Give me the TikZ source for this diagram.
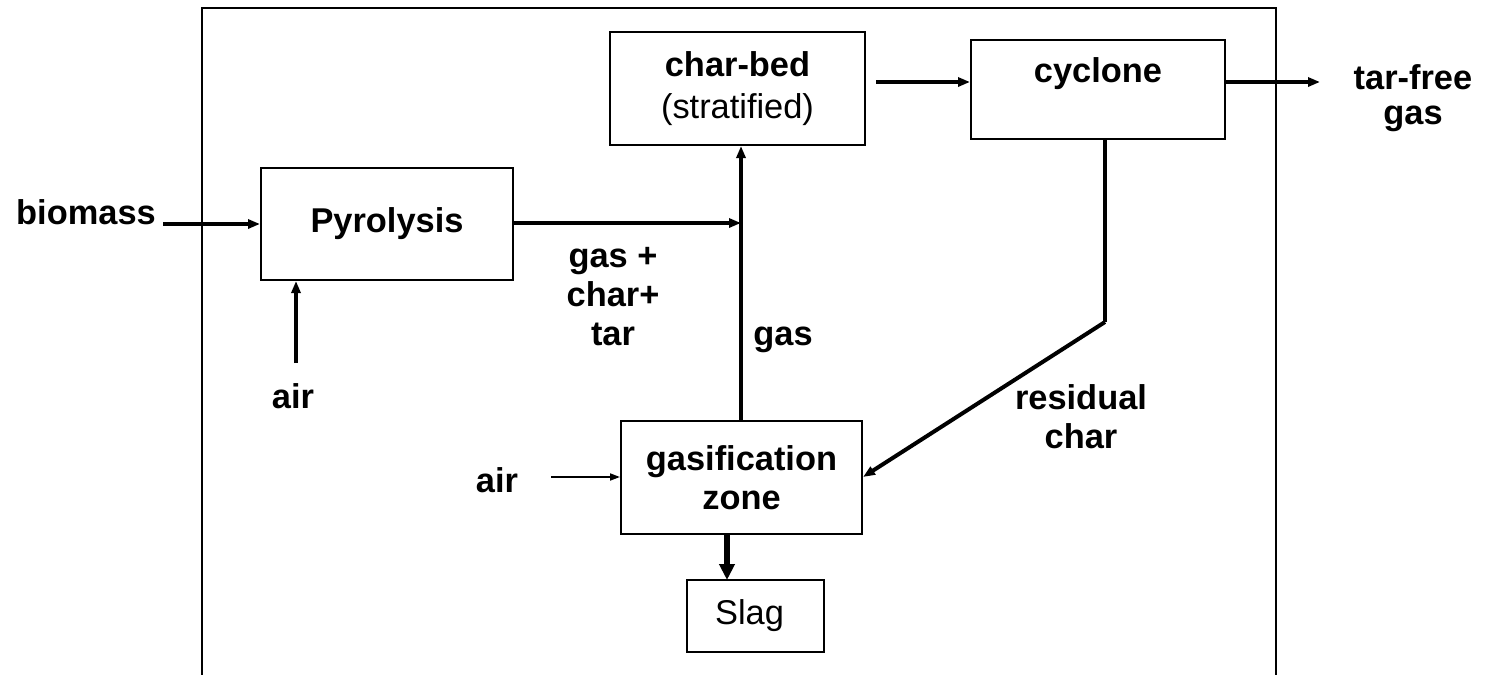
\documentclass[tikz,border=0pt]{standalone}
\usepackage{fontspec}
\setmainfont{Liberation Sans}
\usetikzlibrary{arrows.meta}
\begin{document}
\begin{tikzpicture}[x=0.5pt,y=-0.5pt,
  font=\fontsize{17.2}{19.5}\selectfont\bfseries,
  box/.style={draw,line width=1pt,inner sep=0pt,align=center},
  lbl/.style={align=center,inner sep=0pt},
  flow/.style={line width=2pt,-{Triangle[length=6pt,width=4.5pt]}},
  thinflow/.style={line width=0.9pt,-{Triangle[length=5pt,width=3.5pt]}},
  bigflow/.style={line width=2.6pt,-{Triangle[length=8pt,width=7.5pt]}},
  pipe/.style={line width=2pt}]
\useasboundingbox (0,0) rectangle (1496,675);
% frame
\draw[line width=1.2pt] (202,675) -- (202,8) -- (1276,8) -- (1276,675);
% boxes
\node[box,minimum width=126pt,minimum height=56pt] (pyro) at (387,224) {Pyrolysis};
\node[box,minimum width=127.5pt,minimum height=56.5pt,font=\fontsize{17.2}{21}\selectfont\bfseries] (charbed) at (737.5,88.5) {char-bed\\\mdseries(stratified)};
\node[box,minimum width=127pt,minimum height=49.5pt] (cyclone) at (1098,89.5) {cyclone\\\mbox{}};
\node[box,minimum width=120.5pt,minimum height=56.5pt] (gasif) at (741.5,477.5) {gasification\\zone};
\node[box,minimum width=68.5pt,minimum height=36pt,font=\fontsize{17.2}{19.5}\selectfont\mdseries] (slag) at (755.5,616) {Slag\hspace{6pt}};
% labels
\node[lbl] (lbiomass) at (86,212) {biomass};
\node[lbl] (lair1) at (293,396) {air};
\node[lbl] (lair2) at (497,480) {air};
\node[lbl] (lgct) at (613,297) {gas +\\char+\\tar};
\node[lbl] (lgas) at (783,340) {gas};
\node[lbl,font=\fontsize{17.2}{19.5}\selectfont\bfseries] (lres) at (1081,417) {residual\\char};
\node[lbl,font=\fontsize{17.2}{17.5}\selectfont\bfseries] (ltf) at (1413,98) {tar-free\\gas};
% coordinates
\coordinate (bstart) at (163,224);
\coordinate (a1start) at (296,363);
\coordinate (J) at (741,223);
\coordinate (cbout) at (876,82);
\coordinate (tfend) at (1320,82);
\coordinate (cybot) at (1105,139);
\coordinate (bend) at (1105,322);
\coordinate (a2start) at (551,477);
% connectors
\draw[flow] (bstart) -- (bstart -| pyro.west);
\draw[flow] (a1start) -- (a1start |- pyro.south);
\draw[flow] (pyro.east |- J) -- (J);
\draw[flow] (J |- gasif.north) -- (J |- charbed.south);
\draw[flow] (cbout) -- (cbout -| cyclone.west);
\draw[flow] (cyclone.east |- tfend) -- (tfend);
\draw[pipe,line join=round] (cybot) -- (bend);
\draw[flow] (bend) -- (gasif.east |- a2start);
\draw[thinflow] (a2start) -- (gasif.west |- a2start);
\draw[bigflow] (727,534) -- (727,580);
\end{tikzpicture}
\end{document}
